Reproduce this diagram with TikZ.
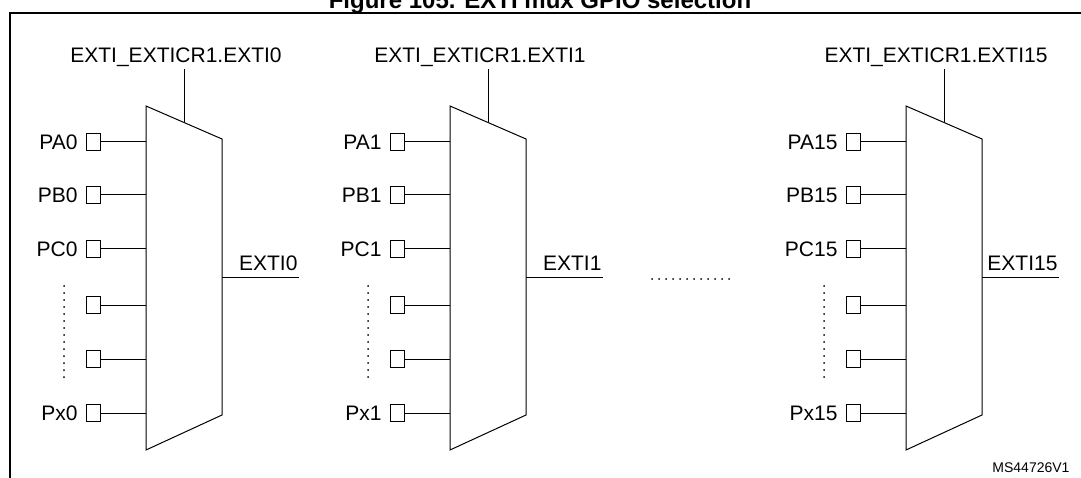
\documentclass[tikz,border=0pt]{standalone}
\usepackage{fontspec}
\setmainfont{Liberation Sans}
\begin{document}
\begin{tikzpicture}[x=1pt,y=-1pt,line width=1pt,
  lbl/.style={font=\fontsize{21}{21}\selectfont,inner sep=0pt},
  pin/.style={draw,minimum width=14pt,minimum height=17pt,inner sep=0pt,line width=1pt},
  dotv/.style={line width=2pt,dash pattern=on 0pt off 7pt,line cap=round}]
\useasboundingbox (0,0) rectangle (1081,478);
\clip (0,0) rectangle (1081,478);
\node[font=\bfseries\fontsize{24}{24}\selectfont,anchor=base,inner sep=0pt] (title) at (540,9) {Figure 105. EXTI mux GPIO selection};
\draw[line width=2pt] (10,13) rectangle (1090,490);
\foreach \s/\n/\k in {0/0/a,304/1/b,760/15/c}{
  \begin{scope}[xshift=\s]
  \draw (146,106) coordinate (tl\k) -- (222,139) coordinate (tr\k) -- (222,415) coordinate (br\k) -- (146,450) coordinate (bl\k) -- cycle;
  \node[lbl,anchor=base] (ctl\k) at (176,63) {EXTI\_EXTICR1.EXTI\n};
  \coordinate (cj\k) at (184,122);
  \draw (184,69) -- (cj\k);
  \foreach \y/\t [count=\i] in {142/PA,195/PB,249/PC,305/,359/,413/Px}{
    \node[pin] (p\k\i) at (93,\y) {};
    \coordinate (m\k\i) at (146,\y);
    \draw (p\k\i.east) -- (m\k\i);
    \ifx\t\empty\else
    \node[lbl,anchor=east] (l\k\i) at (78,\y) {\t\n};
    \fi
  }
  \draw[dotv] (64,286) -- (64,382);
  \coordinate (o\k) at (222,278);
  \coordinate (oe\k) at (299,278);
  \draw (o\k) -- (oe\k);
  \node[lbl,anchor=base east] (ol\k) at (298,271) {EXTI\n};
  \end{scope}
}
\draw[dotv] (652,279) -- (735,279);
\node[font=\fontsize{14}{14}\selectfont,anchor=base east,inner sep=0pt] (ms) at (1070,472) {MS44726V1};
\end{tikzpicture}
\end{document}
